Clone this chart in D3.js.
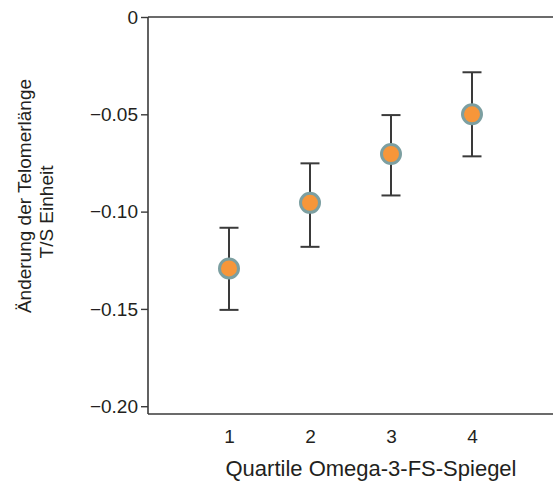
<!DOCTYPE html>
<html>
<head>
<meta charset="utf-8">
<script src="https://cdn.jsdelivr.net/npm/d3@7"></script>
<style>
  html, body { margin: 0; padding: 0; background: #fff; }
  svg { display: block; }
  text { font-family: Arial, "Liberation Sans", Helvetica, sans-serif; fill: #231f20; }
</style>
</head>
<body>
<svg id="chart" width="553" height="483"></svg>
<script>
// Data
const quartiles = [1, 2, 3, 4];
const means = [-0.1292, -0.0955, -0.0704, -0.0500];
const upper = [-0.1083, -0.0752, -0.0504, -0.0284];
const lower = [-0.1505, -0.1181, -0.0917, -0.0716];
const yTicks = [0, -0.05, -0.10, -0.15, -0.20];
const xTickLabels = ["1", "2", "3", "4"];
const xTitle = "Quartile Omega-3-FS-Spiegel";
const yTitle = ["Änderung der Telomerlänge", "T/S Einheit"];

const svg = d3.select("#chart");
const x = d3.scaleLinear().domain([0, 5]).range([148, 553]);
const y = d3.scaleLinear().domain([-0.204, 0]).range([414, 17]);

const axisColor = "#3a3a3a";
const fontFam = "Arial, 'Liberation Sans', sans-serif";

// Frame lines (left, top, bottom)
svg.append("line").attr("x1", x(0)).attr("x2", x(0)).attr("y1", y(0)).attr("y2", y(-0.204))
  .attr("stroke", axisColor).attr("stroke-width", 1.6);
svg.append("line").attr("x1", x(0)).attr("x2", x(5)).attr("y1", y(0)).attr("y2", y(0))
  .attr("stroke", axisColor).attr("stroke-width", 1.6);
svg.append("line").attr("x1", x(0)).attr("x2", x(5)).attr("y1", y(-0.204)).attr("y2", y(-0.204))
  .attr("stroke", axisColor).attr("stroke-width", 1.6);

// Y axis
const fmt = v => v === 0 ? "0" : d3.format(".2f")(v);
const yAxis = d3.axisLeft(y).tickValues(yTicks).tickFormat(fmt).tickSize(7).tickSizeOuter(0).tickPadding(3);
const gy = svg.append("g").attr("transform", `translate(${x(0)},0)`).call(yAxis);
gy.select(".domain").remove();
gy.selectAll(".tick line").attr("stroke", axisColor).attr("stroke-width", 1.4);
gy.selectAll(".tick text").attr("font-size", 19).attr("fill", "#231f20").style("font-family", fontFam);

// X axis labels (no tick marks)
const xAxis = d3.axisBottom(x).tickValues(quartiles).tickFormat((d, i) => xTickLabels[i]).tickSize(0);
const gx = svg.append("g").attr("transform", `translate(0,${y(-0.204)})`).call(xAxis);
gx.select(".domain").remove();
gx.selectAll(".tick text").attr("font-size", 19).attr("y", 29).attr("dy", 0)
  .attr("fill", "#231f20").style("font-family", fontFam);

// Axis titles
svg.append("text").attr("x", 371).attr("y", 476).attr("text-anchor", "middle")
  .attr("font-size", 22).text(xTitle);
svg.append("text").attr("transform", "translate(31,196) rotate(-90)").attr("text-anchor", "middle")
  .attr("font-size", 19).text(yTitle[0]);
svg.append("text").attr("transform", "translate(52.5,212) rotate(-90)").attr("text-anchor", "middle")
  .attr("font-size", 19).text(yTitle[1]);

// Error bars
const eb = svg.append("g");
const cap = 9.5;
quartiles.forEach((q, i) => {
  const cx = x(q);
  eb.append("line").attr("x1", cx).attr("x2", cx).attr("y1", y(upper[i])).attr("y2", y(lower[i]))
    .attr("stroke", "#3a3a3a").attr("stroke-width", 2);
  eb.append("line").attr("x1", cx - cap).attr("x2", cx + cap).attr("y1", y(upper[i])).attr("y2", y(upper[i]))
    .attr("stroke", "#3a3a3a").attr("stroke-width", 2);
  eb.append("line").attr("x1", cx - cap).attr("x2", cx + cap).attr("y1", y(lower[i])).attr("y2", y(lower[i]))
    .attr("stroke", "#3a3a3a").attr("stroke-width", 2);
});

// Points
svg.append("g").selectAll("circle").data(quartiles).join("circle")
  .attr("cx", d => x(d)).attr("cy", (d, i) => y(means[i])).attr("r", 9.5)
  .attr("fill", "#f7963a").attr("stroke", "#7c9fa1").attr("stroke-width", 3);
</script>
</body>
</html>
